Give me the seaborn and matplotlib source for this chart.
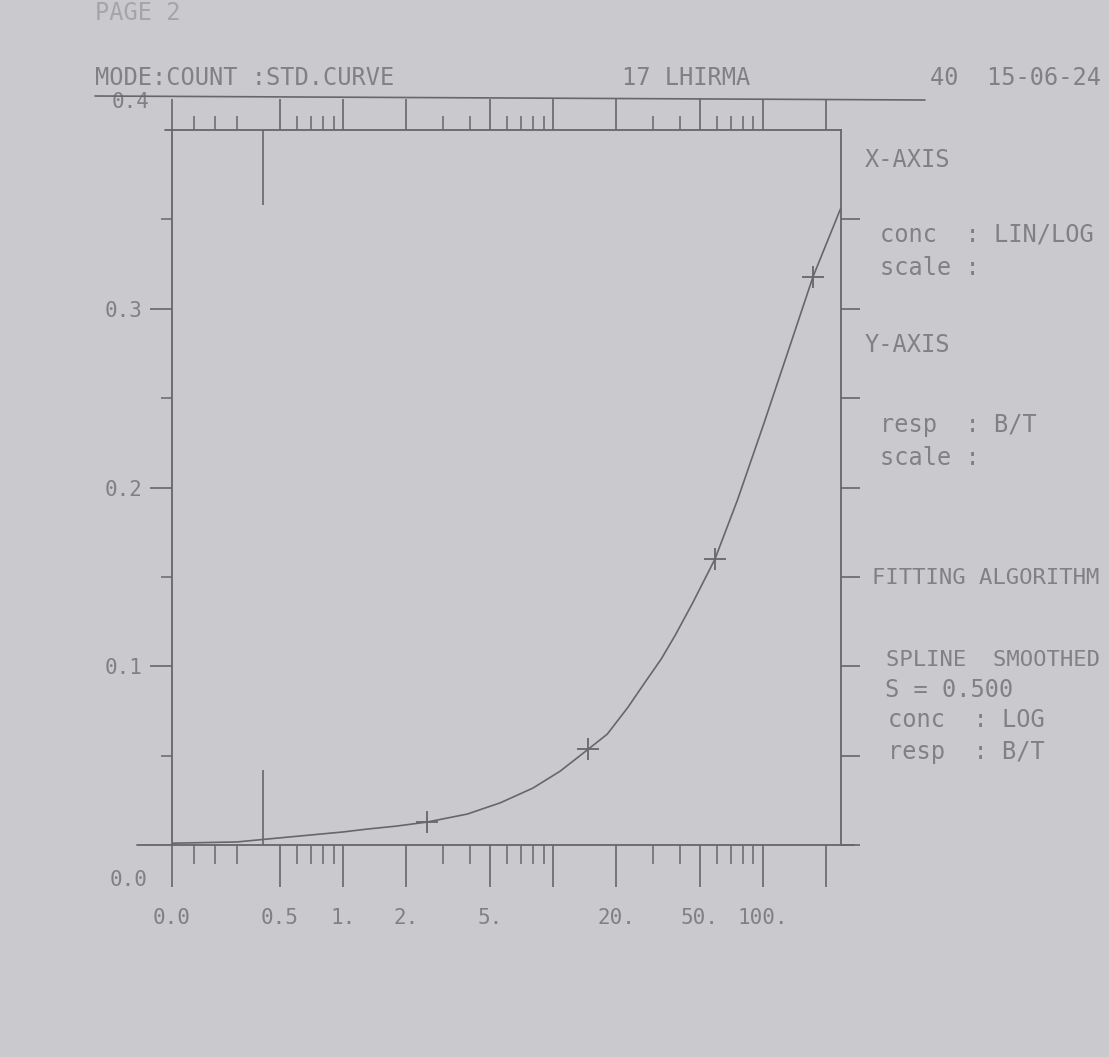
import numpy as np
import pandas as pd
import matplotlib
matplotlib.use("Agg")
import matplotlib.pyplot as plt
import seaborn as sns
from matplotlib.ticker import FixedLocator, FixedFormatter, NullFormatter

# ---------------- data ----------------
curve_conc = [0.0, 0.3, 0.5, 1.0, 1.3, 1.8, 2.5, 3.9, 5.6, 8.0, 10.8, 14.7,
              18.1, 22.7, 27.2, 32.7, 38.0, 46.0, 59.0, 75.5, 101.0, 134.0,
              173.0, 234.0]
curve_resp = [0.001, 0.0017, 0.004, 0.0073, 0.0089, 0.0106, 0.0128, 0.0173,
              0.0236, 0.0318, 0.0413, 0.0536, 0.062, 0.077, 0.0905, 0.104,
              0.117, 0.135, 0.160, 0.193, 0.236, 0.279, 0.318, 0.356]
std_conc = [2.5, 14.7, 59.0, 173.0]
std_resp = [0.0128, 0.0536, 0.160, 0.318]
limit_conc = [0.42, 0.42]
limit_lo = [0.0, 0.358]
limit_hi = [0.042, 0.4]

x_major = [0.0, 0.5, 1.0, 2.0, 5.0, 10.0, 20.0, 50.0, 100.0, 200.0]
x_major_labels = ["0.0", "0.5", "1.", "2.", "5.", "", "20.", "50.", "100.", ""]
x_minor = [0.1, 0.2, 0.3, 0.6, 0.7, 0.8, 0.9, 3, 4, 6, 7, 8, 9,
           30, 40, 60, 70, 80, 90]
y_major = [0.1, 0.2, 0.3]
y_major_labels = ["0.1", "0.2", "0.3"]
y_minor = [0.05, 0.15, 0.25, 0.35]
y_right = [0.0, 0.05, 0.1, 0.15, 0.2, 0.25, 0.3, 0.35]

# ---------------- style ----------------
PAPER = "#c9c9ce"
INK = "#66666b"
TXT = "#808085"
MONO = ["DejaVu Sans Mono"]
FS = 17

sns.set_theme(style="white")
plt.rcParams["font.family"] = MONO

# LIN (0..0.5) / LOG (0.5..) scale
LIN_DEC = 108.0 / 210.0
LO = np.log10(0.5)


def fwd(x):
    x = np.asarray(x, dtype=float)
    lin = LO - (0.5 - x) / 0.5 * LIN_DEC
    lg = np.log10(np.maximum(x, 0.5))
    return np.where(x < 0.5, lin, lg)


def inv(y):
    y = np.asarray(y, dtype=float)
    lin = 0.5 - (LO - y) / LIN_DEC * 0.5
    lg = np.power(10.0, np.minimum(y, 10.0))
    return np.where(y < LO, lin, lg)


fig = plt.figure(figsize=(11.09, 10.57), dpi=100, facecolor=PAPER)
W, H = 1109.0, 1057.0
ax = fig.add_axes([172 / W, 1 - 845 / H, 669 / W, 715 / H])
ax.set_facecolor(PAPER)

ax.set_xscale("function", functions=(fwd, inv))
ax.set_xlim(0.0, 235.0)
ax.set_ylim(0.0, 0.4)

df_curve = pd.DataFrame({"conc": curve_conc, "resp": curve_resp})
df_std = pd.DataFrame({"conc": std_conc, "resp": std_resp})

sns.lineplot(data=df_curve, x="conc", y="resp", ax=ax, color=INK,
             linewidth=1.2, sort=False, estimator=None)
sns.scatterplot(data=df_std, x="conc", y="resp", ax=ax, marker="+",
                s=260, linewidth=1.3, color=INK, zorder=5)
ax.vlines(limit_conc, limit_lo, limit_hi, color=INK, linewidth=1.2)

for s in ax.spines.values():
    s.set_color(INK)
    s.set_linewidth(1.3)

ax.xaxis.set_major_locator(FixedLocator(x_major))
ax.xaxis.set_major_formatter(FixedFormatter(x_major_labels))
ax.xaxis.set_minor_locator(FixedLocator(x_minor))
ax.xaxis.set_minor_formatter(NullFormatter())
ax.tick_params(axis="x", which="major", direction="out", length=30, width=1.2,
               color=INK, labelcolor=TXT, labelsize=15, pad=15, bottom=True, top=False)
ax.tick_params(axis="x", which="minor", direction="out", length=14, width=1.1,
               color=INK, bottom=True, top=False)

ax.yaxis.set_major_locator(FixedLocator(y_major))
ax.yaxis.set_major_formatter(FixedFormatter(y_major_labels))
ax.yaxis.set_minor_locator(FixedLocator(y_minor))
ax.yaxis.set_minor_formatter(NullFormatter())
ax.tick_params(axis="y", which="major", direction="out", length=16, width=1.2,
               color=INK, labelcolor=TXT, labelsize=15, pad=5, left=True, right=False)
ax.tick_params(axis="y", which="minor", direction="out", length=8, width=1.1,
               color=INK, left=True, right=False)
ax.set_xlabel("")
ax.set_ylabel("")

# top axis (same scale, shorter ticks, no labels)
axt = ax.twiny()
axt.set_xscale("function", functions=(fwd, inv))
axt.set_xlim(0.0, 235.0)
axt.xaxis.set_major_locator(FixedLocator(x_major))
axt.xaxis.set_minor_locator(FixedLocator(x_minor))
axt.xaxis.set_major_formatter(NullFormatter())
axt.xaxis.set_minor_formatter(NullFormatter())
axt.tick_params(axis="x", which="major", direction="out", length=22, width=1.2, color=INK)
axt.tick_params(axis="x", which="minor", direction="out", length=10, width=1.1, color=INK)
for s in axt.spines.values():
    s.set_visible(False)

# right axis ticks
axr = ax.twinx()
axr.set_ylim(0.0, 0.4)
axr.yaxis.set_major_locator(FixedLocator(y_right))
axr.yaxis.set_major_formatter(NullFormatter())
axr.tick_params(axis="y", which="major", direction="out", length=14, width=1.2, color=INK)
for s in axr.spines.values():
    s.set_visible(False)

# corner y labels printed above / below the frame
ax.text(-0.036, -0.0196, "0.0", transform=ax.get_yaxis_transform(), ha="right",
        va="center", fontsize=15, color=TXT)
ax.text(-0.033, 0.4157, "0.4", transform=ax.get_yaxis_transform(), ha="right",
        va="center", fontsize=15, color=TXT, clip_on=False)

# frame-line overhangs of the plotter
ax.plot([-0.052, 0.0], [0, 0], transform=ax.transAxes, color=INK, lw=1.3, clip_on=False)
ax.plot([1.0, 1.02], [0, 0], transform=ax.transAxes, color=INK, lw=1.3, clip_on=False)
ax.plot([-0.011, 0.0], [1, 1], transform=ax.transAxes, color=INK, lw=1.3, clip_on=False)

# ---------------- header ----------------
def ftext(x, y, s, size=FS, **kw):
    fig.text(x / W, 1 - y / H, s, ha="left", va="center", fontsize=size,
             color=TXT, family=MONO, **kw)


ftext(95, 13, "PAGE 2", alpha=0.5)
ftext(95, 78, "MODE:COUNT :STD.CURVE")
ftext(622, 78, "17 LHIRMA")
ftext(930, 78, "40  15-06-24")
fig.add_artist(plt.Line2D([95 / W, 925 / W], [1 - 96 / H, 1 - 100 / H],
                          color=INK, lw=1.2))

# ---------------- right info block ----------------
ftext(865, 160, "X-AXIS")
ftext(880, 235, "conc  : LIN/LOG")
ftext(880, 268, "scale :")
ftext(865, 345, "Y-AXIS")
ftext(880, 425, "resp  : B/T")
ftext(880, 458, "scale :")
ftext(872, 578, "FITTING ALGORITHM", size=16)
ftext(886, 660, "SPLINE  SMOOTHED", size=16)
ftext(885, 690, "S = 0.500")
ftext(888, 720, "conc  : LOG")
ftext(888, 752, "resp  : B/T")

fig.savefig("out.png", dpi=100, facecolor=PAPER)
